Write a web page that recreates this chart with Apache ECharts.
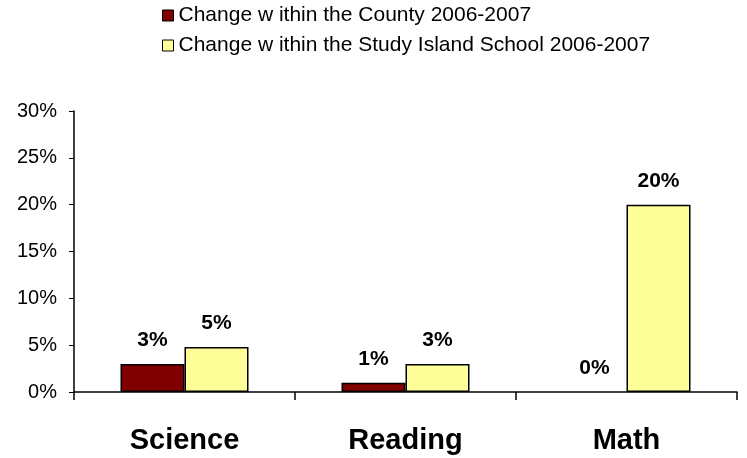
<!DOCTYPE html>
<html>
<head>
<meta charset="utf-8">
<script src="https://cdn.jsdelivr.net/npm/echarts@6/dist/echarts.min.js"></script>
<style>
  html, body { margin: 0; padding: 0; background: #fff; }
  #chart { width: 747px; height: 458px; }
</style>
</head>
<body>
<div id="chart"></div>
<script>
var categories = ['Science', 'Reading', 'Math'];
var countyName = 'Change w ithin the County 2006-2007';
var schoolName = 'Change w ithin the Study Island School 2006-2007';
var countyValues = [3, 1, 0];
var schoolValues = [4.8, 3, 20];
var yTicks = [0, 5, 10, 15, 20, 25, 30];

var chart = echarts.init(document.getElementById('chart'));

var FONT = 'Liberation Sans, Arial';

var labelStyle = {
    show: true,
    position: 'top',
    distance: 13,
    fontFamily: FONT,
    fontWeight: 'bold',
    fontSize: 21,
    color: '#000',
    formatter: function (p) { return Math.round(p.value) + '%'; }
};

// zero bars get no outline, like the original
function toItems(vals) {
    return vals.map(function (v) {
        return v === 0 ? { value: v, itemStyle: { borderWidth: 0 } } : v;
    });
}

var option = {
    animation: false,
    backgroundColor: '#fff',
    legend: {
        orient: 'vertical',
        left: 157,
        top: 0,
        itemWidth: 11,
        itemHeight: 11,
        itemGap: 9,
        textStyle: { fontFamily: FONT, fontSize: 21, color: '#000' },
        data: [
            { name: countyName, icon: 'rect', itemStyle: { borderColor: '#000', borderWidth: 1 } },
            { name: schoolName, icon: 'rect', itemStyle: { borderColor: '#000', borderWidth: 1 } }
        ]
    },
    grid: { left: 74, right: 10, top: 111, bottom: 66 },
    xAxis: {
        type: 'category',
        data: categories,
        axisLine: { lineStyle: { color: '#000', width: 1.5 } },
        axisTick: { show: true, length: 8, lineStyle: { color: '#000', width: 1.5 } },
        axisLabel: {
            fontFamily: FONT,
            fontWeight: 'bold',
            fontSize: 29,
            color: '#000',
            margin: 34
        }
    },
    yAxis: {
        type: 'value',
        min: yTicks[0],
        max: yTicks[yTicks.length - 1],
        interval: 5,
        axisLine: { show: true, lineStyle: { color: '#000', width: 1.5 } },
        axisTick: { show: true, length: 5, lineStyle: { color: '#000' } },
        splitLine: { show: false },
        axisLabel: {
            fontFamily: FONT,
            fontSize: 20,
            color: '#000',
            margin: 17,
            formatter: '{value}%'
        }
    },
    series: [
        {
            name: countyName,
            type: 'bar',
            data: toItems(countyValues),
            barWidth: 64,
            barGap: '0%',
            itemStyle: { color: '#800000', borderColor: '#000', borderWidth: 1.5 },
            label: labelStyle
        },
        {
            name: schoolName,
            type: 'bar',
            data: toItems(schoolValues),
            barWidth: 64,
            itemStyle: { color: '#FFFF99', borderColor: '#000', borderWidth: 1.5 },
            label: labelStyle
        }
    ]
};

chart.setOption(option);
</script>
</body>
</html>
